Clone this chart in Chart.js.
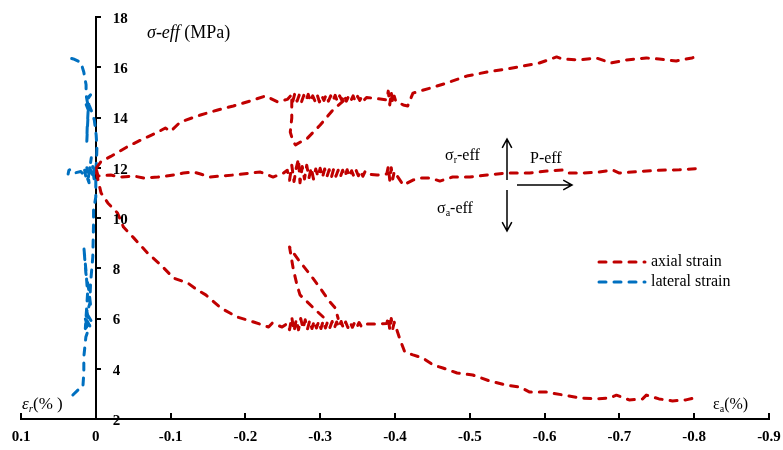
<!DOCTYPE html>
<html>
<head>
<meta charset="utf-8">
<script src="https://cdn.jsdelivr.net/npm/chart.js@4.4.1/dist/chart.umd.min.js"></script>
<style>
  body { margin: 0; background: #fff; }
  #wrap { width: 783px; height: 450px; position: relative; }
</style>
</head>
<body>
<div id="wrap"><canvas id="chartStrain"></canvas></div>
<script>
// axis ticks
const xTicks = { min: -0.9, max: 0.1, step: 0.1 };
const yTicks = { min: 2, max: 18, step: 2 };

// axial strain (%) vs effective stress (MPa) - upper branch
const axialUpper = [
  [-0.001, 12.0], [-0.007, 12.25], [-0.02, 12.45], [-0.043, 12.85], [-0.06, 13.1], [-0.083, 13.42],
  [-0.093, 13.58], [-0.1, 13.45], [-0.113, 13.82], [-0.14, 14.1], [-0.163, 14.3], [-0.184, 14.46],
  [-0.207, 14.66], [-0.227, 14.86], [-0.243, 14.62], [-0.256, 14.72],
  [-0.26, 14.85], [-0.263, 14.6], [-0.266, 14.95], [-0.269, 14.65], [-0.272, 14.9], [-0.275, 14.62],
  [-0.278, 14.88], [-0.281, 14.68], [-0.284, 14.92], [-0.287, 14.64], [-0.29, 14.86], [-0.293, 14.66],
  [-0.296, 14.9], [-0.299, 14.62], [-0.302, 14.87], [-0.305, 14.68], [-0.308, 14.9], [-0.311, 14.65],
  [-0.314, 14.86], [-0.317, 14.66], [-0.32, 14.88], [-0.323, 14.64], [-0.326, 14.86], [-0.329, 14.68],
  [-0.332, 14.9], [-0.335, 14.65], [-0.338, 14.85], [-0.341, 14.67], [-0.344, 14.86], [-0.347, 14.64],
  [-0.35, 14.84], [-0.353, 14.68], [-0.356, 14.86], [-0.359, 14.7], [-0.362, 14.8],
  [-0.376, 14.75], [-0.389, 14.7], [-0.391, 15.05], [-0.393, 14.5], [-0.395, 15.0], [-0.397, 14.55],
  [-0.399, 14.85], [-0.401, 14.65], [-0.411, 14.5], [-0.417, 14.46], [-0.424, 14.97], [-0.447, 15.17],
  [-0.469, 15.37], [-0.496, 15.65], [-0.523, 15.81], [-0.549, 15.93], [-0.571, 16.05], [-0.593, 16.17],
  [-0.616, 16.41], [-0.624, 16.33], [-0.647, 16.29], [-0.669, 16.37], [-0.689, 16.17], [-0.709, 16.29],
  [-0.736, 16.37], [-0.753, 16.33], [-0.776, 16.25], [-0.797, 16.37], [-0.807, 16.47]
];
const axialUpperLoop = [
  [-0.262, 14.7], [-0.262, 14.5], [-0.262, 13.98], [-0.26, 13.42], [-0.264, 13.02], [-0.267, 12.91],
  [-0.283, 13.18], [-0.3, 13.7], [-0.317, 14.3], [-0.331, 14.66]
];

// middle branch (P-eff)
const axialMiddle = [
  [-0.001, 11.9], [-0.003, 11.67], [-0.02, 11.71], [-0.033, 11.63], [-0.051, 11.67], [-0.064, 11.59],
  [-0.083, 11.63], [-0.104, 11.71], [-0.117, 11.79], [-0.131, 11.83], [-0.14, 11.75], [-0.153, 11.63],
  [-0.167, 11.67], [-0.184, 11.71], [-0.207, 11.79], [-0.22, 11.83], [-0.237, 11.63], [-0.251, 11.79],
  [-0.256, 11.9], [-0.259, 11.5], [-0.262, 12.1], [-0.265, 11.45], [-0.268, 12.0], [-0.271, 12.35],
  [-0.273, 11.4], [-0.276, 12.05], [-0.279, 11.55], [-0.282, 12.1], [-0.285, 11.6], [-0.288, 12.0],
  [-0.291, 11.55], [-0.294, 11.95], [-0.297, 11.65], [-0.3, 11.98], [-0.303, 11.62], [-0.306, 11.95],
  [-0.309, 11.65], [-0.312, 11.92], [-0.315, 11.62], [-0.318, 11.95], [-0.321, 11.66], [-0.324, 11.9],
  [-0.327, 11.64], [-0.33, 11.9], [-0.333, 11.66], [-0.336, 11.92], [-0.339, 11.65], [-0.342, 11.88],
  [-0.345, 11.66], [-0.348, 11.9], [-0.351, 11.68], [-0.354, 11.88], [-0.357, 11.66], [-0.36, 11.85],
  [-0.362, 11.75], [-0.376, 11.71], [-0.389, 11.75], [-0.391, 12.05], [-0.393, 11.5], [-0.395, 12.0],
  [-0.397, 11.55], [-0.399, 11.85], [-0.411, 11.31], [-0.424, 11.51], [-0.433, 11.59], [-0.447, 11.59],
  [-0.46, 11.47], [-0.477, 11.63], [-0.5, 11.63], [-0.523, 11.71], [-0.549, 11.79], [-0.58, 11.79],
  [-0.603, 11.87], [-0.624, 11.91], [-0.631, 11.79], [-0.651, 11.79], [-0.673, 11.83], [-0.691, 11.91],
  [-0.7, 11.79], [-0.727, 11.85], [-0.753, 11.9], [-0.78, 11.92], [-0.809, 11.98]
];

// lower branch
const axialLower = [
  [-0.001, 11.8], [-0.003, 11.51], [-0.007, 11.0], [-0.016, 10.6], [-0.029, 10.2], [-0.037, 9.64],
  [-0.051, 9.2], [-0.069, 8.61], [-0.087, 8.13], [-0.104, 7.61], [-0.123, 7.41], [-0.136, 7.13],
  [-0.147, 6.94], [-0.167, 6.42], [-0.189, 6.06], [-0.211, 5.86], [-0.231, 5.66], [-0.236, 5.82],
  [-0.249, 5.66],
  [-0.256, 5.8], [-0.259, 5.55], [-0.262, 6.05], [-0.265, 5.5], [-0.268, 5.95], [-0.271, 5.55],
  [-0.274, 6.0], [-0.277, 5.6], [-0.28, 5.95], [-0.283, 5.58], [-0.286, 5.92], [-0.289, 5.6],
  [-0.292, 5.9], [-0.295, 5.62], [-0.298, 5.88], [-0.301, 5.6], [-0.304, 5.9], [-0.307, 5.62],
  [-0.31, 5.88], [-0.313, 5.64], [-0.316, 5.88], [-0.319, 5.62], [-0.322, 5.86], [-0.325, 5.64],
  [-0.328, 5.88], [-0.331, 5.62], [-0.334, 5.86], [-0.337, 5.64], [-0.34, 5.85], [-0.343, 5.65],
  [-0.346, 5.84], [-0.349, 5.66], [-0.352, 5.84], [-0.355, 5.68], [-0.358, 5.78],
  [-0.376, 5.78], [-0.389, 5.8], [-0.391, 6.05], [-0.393, 5.55], [-0.395, 6.0], [-0.397, 5.6],
  [-0.399, 5.85], [-0.407, 5.14], [-0.413, 4.67], [-0.424, 4.55], [-0.437, 4.43], [-0.451, 4.15],
  [-0.464, 4.03], [-0.483, 3.83], [-0.504, 3.75], [-0.527, 3.51], [-0.549, 3.35], [-0.567, 3.27],
  [-0.58, 3.07], [-0.603, 3.07], [-0.624, 2.96], [-0.647, 2.84], [-0.669, 2.8], [-0.687, 2.84],
  [-0.696, 2.95], [-0.713, 2.76], [-0.731, 2.8], [-0.736, 2.95], [-0.753, 2.8], [-0.771, 2.72],
  [-0.789, 2.76], [-0.807, 2.88]
];
const axialLowerLoop = [
  [-0.304, 6.06], [-0.291, 6.42], [-0.273, 6.94], [-0.269, 7.33], [-0.264, 7.97], [-0.259, 8.85],
  [-0.262, 8.7], [-0.271, 8.33], [-0.287, 7.73], [-0.3, 7.21], [-0.313, 6.66], [-0.32, 6.42], [-0.324, 6.0]
];

// lateral strain
const lateralUpper = [
  [0.0, 11.9], [-0.001, 12.3], [-0.0015, 12.8], [-0.0005, 13.3], [0.002, 13.9], [0.005, 14.2],
  [0.009, 14.5], [0.012, 14.75], [0.007, 14.9], [0.014, 14.6], [0.01, 14.3], [0.011, 13.7],
  [0.012, 13.05], [0.0115, 13.6], [0.01, 14.4], [0.013, 14.9], [0.013, 15.3], [0.016, 15.8],
  [0.02, 16.2], [0.03, 16.33], [0.036, 16.37], [0.037, 16.2]
];
const lateralMiddle = [
  [0.0, 11.8], [0.005, 12.1], [0.002, 11.5], [0.008, 12.0], [0.006, 12.4], [0.01, 11.6],
  [0.012, 12.0], [0.009, 11.4], [0.015, 11.9], [0.013, 11.6], [0.02, 11.85], [0.027, 11.8],
  [0.033, 11.95], [0.036, 11.9], [0.037, 11.75]
];
const lateralLower = [
  [0.0, 11.5], [0.0, 10.84], [0.003, 10.32], [0.003, 9.8], [0.004, 8.45], [0.007, 7.41],
  [0.008, 6.6], [0.012, 6.2], [0.006, 5.9], [0.014, 5.6], [0.011, 7.0], [0.013, 7.85],
  [0.016, 8.85], [0.0133, 7.81], [0.0093, 7.13], [0.0067, 6.46], [0.012, 6.3], [0.008, 5.7],
  [0.015, 6.1], [0.01, 5.55], [0.0133, 5.26], [0.016, 4.47], [0.016, 3.83], [0.0173, 3.27],
  [0.024, 3.15], [0.0333, 2.88], [0.0347, 2.76]
];

const RED = '#C00000';
const BLUE = '#0070C0';
const SERIF = '"Liberation Serif", "Times New Roman", serif';

function serie(label, pts, color) {
  return {
    label: label,
    data: pts.map(p => ({ x: p[0], y: p[1] })),
    showLine: true,
    borderColor: color,
    backgroundColor: color,
    borderWidth: 3,
    borderDash: [7, 8],
    borderCapStyle: 'round',
    borderJoinStyle: 'round',
    pointRadius: 0,
    tension: 0,
    fill: false
  };
}

// text with a subscript, e.g. σ + r + -eff
function textSub(ctx, x, y, base, sub, rest, size, style) {
  style = style || '';
  ctx.font = style + ' ' + size + 'px ' + SERIF;
  ctx.fillText(base, x, y);
  x += ctx.measureText(base).width;
  ctx.font = style + ' ' + Math.round(size * 0.65) + 'px ' + SERIF;
  ctx.fillText(sub, x, y + size * 0.2);
  x += ctx.measureText(sub).width;
  ctx.font = size + 'px ' + SERIF;
  ctx.fillText(rest, x, y);
}

function arrow(ctx, x1, y1, x2, y2) {
  const a = Math.atan2(y2 - y1, x2 - x1);
  const h = 10;
  ctx.beginPath();
  ctx.moveTo(x1, y1);
  ctx.lineTo(x2, y2);
  ctx.moveTo(x2 - h * Math.cos(a - 0.5), y2 - h * Math.sin(a - 0.5));
  ctx.lineTo(x2, y2);
  ctx.lineTo(x2 - h * Math.cos(a + 0.5), y2 - h * Math.sin(a + 0.5));
  ctx.stroke();
}

const decorPlugin = {
  id: 'decor',
  afterDraw(chart) {
    const ctx = chart.ctx;
    const sx = chart.scales.x, sy = chart.scales.y;
    const x0 = sx.getPixelForValue(0);
    ctx.save();
    ctx.fillStyle = '#000';
    ctx.strokeStyle = '#000';

    // y tick labels sit right of the axis
    ctx.font = 'bold 15px ' + SERIF;
    ctx.textAlign = 'left';
    ctx.textBaseline = 'middle';
    sy.ticks.forEach(t => ctx.fillText(String(t.value), x0 + 17, sy.getPixelForValue(t.value) + 2));

    // axis titles
    ctx.textBaseline = 'alphabetic';
    ctx.font = 'italic 18px ' + SERIF;
    ctx.fillText('σ-eff', 147, 38);
    const w = ctx.measureText('σ-eff ').width;
    ctx.font = '18px ' + SERIF;
    ctx.fillText('(MPa)', 147 + w, 38);

    textSub(ctx, 22, 409, 'ε', 'r', '(% )', 17, 'italic');
    textSub(ctx, 713, 409, 'ε', 'a', '(%)', 16, '');

    // stress direction sketch
    ctx.lineWidth = 1.5;
    arrow(ctx, 507, 180, 507, 139);
    arrow(ctx, 507, 190, 507, 231);
    arrow(ctx, 517, 185, 572, 185);
    textSub(ctx, 445, 160, 'σ', 'r', '-eff', 16, '');
    ctx.font = '16px ' + SERIF;
    ctx.fillText('P-eff', 530, 163);
    textSub(ctx, 437, 213, 'σ', 'a', '-eff', 16, '');

    // legend
    const items = [['axial strain', RED, 262], ['lateral strain', BLUE, 282]];
    items.forEach(it => {
      ctx.strokeStyle = it[1];
      ctx.lineWidth = 3;
      ctx.lineCap = 'round';
      ctx.setLineDash([7, 8]);
      ctx.beginPath();
      ctx.moveTo(599, it[2]);
      ctx.lineTo(645, it[2]);
      ctx.stroke();
      ctx.setLineDash([]);
      ctx.fillStyle = '#000';
      ctx.font = '16px ' + SERIF;
      ctx.textBaseline = 'middle';
      ctx.fillText(it[0], 651, it[2]);
    });
    ctx.restore();
  }
};

function inicializarGrafico() {
  const ctx = document.getElementById('chartStrain');
  new Chart(ctx, {
    type: 'scatter',
    data: {
      datasets: [
        serie('axial strain', axialUpper, RED),
        serie('axial strain', axialUpperLoop, RED),
        serie('axial strain', axialMiddle, RED),
        serie('axial strain', axialLower, RED),
        serie('axial strain', axialLowerLoop, RED),
        serie('lateral strain', lateralUpper, BLUE),
        serie('lateral strain', lateralMiddle, BLUE),
        serie('lateral strain', lateralLower, BLUE)
      ]
    },
    options: {
      responsive: true,
      maintainAspectRatio: false,
      animation: false,
      layout: { padding: { left: 21, right: 14, top: 17, bottom: 0 } },
      plugins: { legend: { display: false }, tooltip: { enabled: false } },
      scales: {
        x: {
          type: 'linear',
          position: 'bottom',
          reverse: true,
          min: xTicks.min,
          max: xTicks.max,
          border: { display: true, color: '#000', width: 2 },
          grid: { drawOnChartArea: false, drawTicks: true, tickLength: -6, color: '#000', lineWidth: 2 },
          ticks: {
            stepSize: xTicks.step,
            padding: 15,
            color: '#000',
            font: { family: SERIF, size: 15, weight: 'bold' },
            callback: v => String(Math.round(v * 10) / 10)
          },
          // fixed band under the plot, no extra side padding for the end labels
          afterFit: scale => {
            scale.height = 31;
            scale.paddingLeft = 0;
            scale.paddingRight = 0;
          }
        },
        y: {
          type: 'linear',
          position: { x: 0 },
          min: yTicks.min,
          max: yTicks.max,
          border: { display: true, color: '#000', width: 2 },
          grid: { drawOnChartArea: false, drawTicks: true, tickLength: -6, color: '#000', lineWidth: 2 },
          ticks: { stepSize: yTicks.step, display: false }
        }
      }
    },
    plugins: [decorPlugin]
  });
}

document.addEventListener('DOMContentLoaded', inicializarGrafico);
</script>
</body>
</html>
